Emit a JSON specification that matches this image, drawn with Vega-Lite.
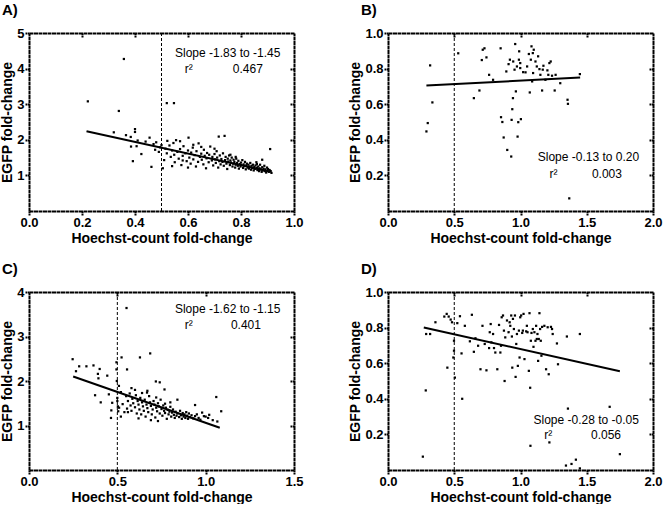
{
"$schema":"https://vega.github.io/schema/vega-lite/v6.json",
"padding":{"left":0,"top":3,"right":0,"bottom":0},
"background":"white",
"datasets":{
"pts":[
{"p":"A","x":0.222,"y":3.08},{"p":"A","x":0.358,"y":4.27},{"p":"A","x":0.339,"y":2.81},{"p":"A","x":0.52,"y":3.03},{"p":"A","x":0.547,"y":3.03},{"p":"A","x":0.32,"y":2.21},{"p":"A","x":0.366,"y":2.13},{"p":"A","x":0.384,"y":2.08},{"p":"A","x":0.4,"y":2.3},{"p":"A","x":0.4,"y":2.22},{"p":"A","x":0.385,"y":1.81},{"p":"A","x":0.406,"y":1.82},{"p":"A","x":0.392,"y":1.4},{"p":"A","x":0.424,"y":1.6},{"p":"A","x":0.41,"y":1.98},{"p":"A","x":0.44,"y":1.95},{"p":"A","x":0.455,"y":2.06},{"p":"A","x":0.462,"y":1.24},{"p":"A","x":0.47,"y":1.88},{"p":"A","x":0.476,"y":1.72},{"p":"A","x":0.48,"y":1.93},{"p":"A","x":0.49,"y":1.66},{"p":"A","x":0.495,"y":1.79},{"p":"A","x":0.5,"y":1.85},{"p":"A","x":0.505,"y":1.2},{"p":"A","x":0.51,"y":1.43},{"p":"A","x":0.515,"y":1.75},{"p":"A","x":0.52,"y":1.62},{"p":"A","x":0.522,"y":1.97},{"p":"A","x":0.53,"y":1.84},{"p":"A","x":0.535,"y":1.52},{"p":"A","x":0.54,"y":1.7},{"p":"A","x":0.545,"y":1.91},{"p":"A","x":0.548,"y":1.58},{"p":"A","x":0.55,"y":1.37},{"p":"A","x":0.555,"y":1.99},{"p":"A","x":0.56,"y":1.66},{"p":"A","x":0.565,"y":1.47},{"p":"A","x":0.57,"y":1.74},{"p":"A","x":0.575,"y":1.29},{"p":"A","x":0.58,"y":1.55},{"p":"A","x":0.583,"y":1.82},{"p":"A","x":0.59,"y":1.62},{"p":"A","x":0.595,"y":1.4},{"p":"A","x":0.6,"y":1.7},{"p":"A","x":0.602,"y":2.06},{"p":"A","x":0.605,"y":1.5},{"p":"A","x":0.61,"y":1.33},{"p":"A","x":0.612,"y":1.64},{"p":"A","x":0.618,"y":1.78},{"p":"A","x":0.62,"y":1.45},{"p":"A","x":0.625,"y":1.57},{"p":"A","x":0.63,"y":1.25},{"p":"A","x":0.632,"y":1.68},{"p":"A","x":0.638,"y":1.38},{"p":"A","x":0.64,"y":1.9},{"p":"A","x":0.645,"y":1.52},{"p":"A","x":0.65,"y":1.61},{"p":"A","x":0.652,"y":1.44},{"p":"A","x":0.658,"y":1.31},{"p":"A","x":0.66,"y":1.72},{"p":"A","x":0.663,"y":1.55},{"p":"A","x":0.668,"y":1.2},{"p":"A","x":0.67,"y":1.48},{"p":"A","x":0.672,"y":1.63},{"p":"A","x":0.678,"y":1.37},{"p":"A","x":0.68,"y":1.58},{"p":"A","x":0.684,"y":1.81},{"p":"A","x":0.69,"y":1.42},{"p":"A","x":0.692,"y":1.52},{"p":"A","x":0.695,"y":1.28},{"p":"A","x":0.7,"y":1.6},{"p":"A","x":0.702,"y":1.45},{"p":"A","x":0.705,"y":1.35},{"p":"A","x":0.708,"y":1.68},{"p":"A","x":0.71,"y":1.5},{"p":"A","x":0.714,"y":1.22},{"p":"A","x":0.716,"y":2.09},{"p":"A","x":0.718,"y":1.4},{"p":"A","x":0.72,"y":1.56},{"p":"A","x":0.723,"y":1.31},{"p":"A","x":0.726,"y":1.46},{"p":"A","x":0.73,"y":1.38},{"p":"A","x":0.732,"y":1.62},{"p":"A","x":0.735,"y":1.27},{"p":"A","x":0.738,"y":2.11},{"p":"A","x":0.74,"y":1.43},{"p":"A","x":0.742,"y":1.52},{"p":"A","x":0.745,"y":1.33},{"p":"A","x":0.748,"y":1.18},{"p":"A","x":0.75,"y":1.47},{"p":"A","x":0.752,"y":1.39},{"p":"A","x":0.755,"y":1.56},{"p":"A","x":0.758,"y":1.29},{"p":"A","x":0.76,"y":1.42},{"p":"A","x":0.762,"y":1.36},{"p":"A","x":0.765,"y":1.5},{"p":"A","x":0.768,"y":1.25},{"p":"A","x":0.77,"y":1.33},{"p":"A","x":0.772,"y":1.44},{"p":"A","x":0.775,"y":1.38},{"p":"A","x":0.778,"y":1.22},{"p":"A","x":0.78,"y":1.3},{"p":"A","x":0.782,"y":1.47},{"p":"A","x":0.785,"y":1.35},{"p":"A","x":0.788,"y":1.27},{"p":"A","x":0.79,"y":1.41},{"p":"A","x":0.792,"y":1.19},{"p":"A","x":0.795,"y":1.32},{"p":"A","x":0.798,"y":1.25},{"p":"A","x":0.8,"y":1.36},{"p":"A","x":0.802,"y":1.29},{"p":"A","x":0.805,"y":1.43},{"p":"A","x":0.808,"y":1.21},{"p":"A","x":0.81,"y":1.31},{"p":"A","x":0.812,"y":1.26},{"p":"A","x":0.815,"y":1.38},{"p":"A","x":0.818,"y":1.17},{"p":"A","x":0.82,"y":1.28},{"p":"A","x":0.822,"y":1.33},{"p":"A","x":0.825,"y":1.22},{"p":"A","x":0.828,"y":1.3},{"p":"A","x":0.83,"y":1.19},{"p":"A","x":0.832,"y":1.25},{"p":"A","x":0.835,"y":1.35},{"p":"A","x":0.838,"y":1.16},{"p":"A","x":0.84,"y":1.27},{"p":"A","x":0.842,"y":1.21},{"p":"A","x":0.845,"y":1.3},{"p":"A","x":0.848,"y":1.14},{"p":"A","x":0.85,"y":1.24},{"p":"A","x":0.852,"y":1.18},{"p":"A","x":0.855,"y":1.28},{"p":"A","x":0.858,"y":1.37},{"p":"A","x":0.86,"y":1.21},{"p":"A","x":0.862,"y":1.15},{"p":"A","x":0.865,"y":1.25},{"p":"A","x":0.868,"y":1.12},{"p":"A","x":0.87,"y":1.2},{"p":"A","x":0.872,"y":1.3},{"p":"A","x":0.875,"y":1.17},{"p":"A","x":0.878,"y":1.1},{"p":"A","x":0.88,"y":1.23},{"p":"A","x":0.882,"y":1.14},{"p":"A","x":0.885,"y":1.19},{"p":"A","x":0.888,"y":1.27},{"p":"A","x":0.89,"y":1.12},{"p":"A","x":0.892,"y":1.17},{"p":"A","x":0.895,"y":1.08},{"p":"A","x":0.898,"y":1.22},{"p":"A","x":0.9,"y":1.13},{"p":"A","x":0.902,"y":1.18},{"p":"A","x":0.905,"y":1.1},{"p":"A","x":0.908,"y":1.15},{"p":"A","x":0.91,"y":1.74},{"p":"A","x":0.912,"y":1.12},{"p":"A","x":0.915,"y":1.07},{"p":"A","x":0.88,"y":1.44},{"p":"A","x":0.86,"y":1.32},{"p":"A","x":0.78,"y":1.52},{"p":"A","x":0.76,"y":1.58},{"p":"A","x":0.7,"y":1.75},{"p":"A","x":0.65,"y":1.8},{"p":"A","x":0.62,"y":1.86},{"p":"A","x":0.58,"y":1.42},{"p":"A","x":0.57,"y":1.96},{"p":"A","x":0.6,"y":1.22},{"p":"A","x":0.54,"y":1.26},
{"p":"B","x":0.29,"y":0.447},{"p":"B","x":0.3,"y":0.494},{"p":"B","x":0.318,"y":0.818},{"p":"B","x":0.335,"y":0.61},{"p":"B","x":0.53,"y":0.886},{"p":"B","x":0.648,"y":0.634},{"p":"B","x":0.69,"y":0.677},{"p":"B","x":0.708,"y":0.848},{"p":"B","x":0.715,"y":0.906},{"p":"B","x":0.728,"y":0.914},{"p":"B","x":0.743,"y":0.863},{"p":"B","x":0.763,"y":0.765},{"p":"B","x":0.793,"y":0.737},{"p":"B","x":0.85,"y":0.914},{"p":"B","x":0.853,"y":0.527},{"p":"B","x":0.863,"y":0.5},{"p":"B","x":0.873,"y":0.413},{"p":"B","x":0.893,"y":0.784},{"p":"B","x":0.9,"y":0.343},{"p":"B","x":0.91,"y":0.825},{"p":"B","x":0.92,"y":0.85},{"p":"B","x":0.93,"y":0.306},{"p":"B","x":0.933,"y":0.512},{"p":"B","x":0.938,"y":0.572},{"p":"B","x":0.943,"y":0.634},{"p":"B","x":0.945,"y":0.84},{"p":"B","x":0.955,"y":0.794},{"p":"B","x":0.96,"y":0.938},{"p":"B","x":0.965,"y":0.672},{"p":"B","x":0.973,"y":0.812},{"p":"B","x":0.978,"y":0.418},{"p":"B","x":0.983,"y":0.499},{"p":"B","x":0.988,"y":0.85},{"p":"B","x":0.99,"y":0.897},{"p":"B","x":0.998,"y":0.831},{"p":"B","x":1.003,"y":0.516},{"p":"B","x":0.998,"y":0.803},{"p":"B","x":1.038,"y":0.779},{"p":"B","x":1.05,"y":0.812},{"p":"B","x":1.063,"y":0.882},{"p":"B","x":1.07,"y":0.666},{"p":"B","x":1.078,"y":0.85},{"p":"B","x":1.083,"y":0.925},{"p":"B","x":1.088,"y":0.728},{"p":"B","x":1.093,"y":0.887},{"p":"B","x":1.1,"y":0.906},{"p":"B","x":1.113,"y":0.84},{"p":"B","x":1.123,"y":0.812},{"p":"B","x":1.133,"y":0.869},{"p":"B","x":1.143,"y":0.797},{"p":"B","x":1.15,"y":0.765},{"p":"B","x":1.163,"y":0.677},{"p":"B","x":1.168,"y":0.794},{"p":"B","x":1.173,"y":0.816},{"p":"B","x":1.188,"y":0.737},{"p":"B","x":1.203,"y":0.79},{"p":"B","x":1.21,"y":0.765},{"p":"B","x":1.218,"y":0.831},{"p":"B","x":1.228,"y":0.84},{"p":"B","x":1.238,"y":0.76},{"p":"B","x":1.258,"y":0.677},{"p":"B","x":1.265,"y":0.765},{"p":"B","x":1.3,"y":0.718},{"p":"B","x":1.355,"y":0.625},{"p":"B","x":1.358,"y":0.602},{"p":"B","x":1.368,"y":0.071},{"p":"B","x":1.448,"y":0.769},{"p":"B","x":1.02,"y":0.78},{"p":"B","x":1.095,"y":0.775},
{"p":"C","x":0.247,"y":2.49},{"p":"C","x":0.266,"y":2.22},{"p":"C","x":0.284,"y":2.33},{"p":"C","x":0.325,"y":2.33},{"p":"C","x":0.365,"y":2.35},{"p":"C","x":0.39,"y":2.16},{"p":"C","x":0.4,"y":2.27},{"p":"C","x":0.393,"y":2.06},{"p":"C","x":0.374,"y":1.68},{"p":"C","x":0.406,"y":1.52},{"p":"C","x":0.443,"y":2.12},{"p":"C","x":0.452,"y":1.7},{"p":"C","x":0.466,"y":1.34},{"p":"C","x":0.464,"y":1.17},{"p":"C","x":0.471,"y":1.51},{"p":"C","x":0.495,"y":2.42},{"p":"C","x":0.495,"y":2.26},{"p":"C","x":0.497,"y":2.0},{"p":"C","x":0.5,"y":1.55},{"p":"C","x":0.503,"y":1.43},{"p":"C","x":0.505,"y":1.32},{"p":"C","x":0.509,"y":1.89},{"p":"C","x":0.524,"y":2.53},{"p":"C","x":0.552,"y":3.64},{"p":"C","x":0.555,"y":2.26},{"p":"C","x":0.628,"y":2.53},{"p":"C","x":0.686,"y":2.62},{"p":"C","x":0.718,"y":1.99},{"p":"C","x":0.668,"y":1.74},{"p":"C","x":0.767,"y":1.81},{"p":"C","x":0.84,"y":1.58},{"p":"C","x":1.06,"y":1.64},{"p":"C","x":1.088,"y":1.32},{"p":"C","x":1.066,"y":1.09},{"p":"C","x":0.99,"y":1.21},{"p":"C","x":1.014,"y":1.17},{"p":"C","x":0.94,"y":1.46},
{"p":"C","x":0.5,"y":1.62},{"p":"C","x":0.51,"y":1.4},{"p":"C","x":0.52,"y":1.75},{"p":"C","x":0.53,"y":1.48},{"p":"C","x":0.54,"y":1.3},{"p":"C","x":0.55,"y":1.66},{"p":"C","x":0.555,"y":1.38},{"p":"C","x":0.56,"y":1.55},{"p":"C","x":0.57,"y":1.72},{"p":"C","x":0.575,"y":1.45},{"p":"C","x":0.58,"y":1.33},{"p":"C","x":0.585,"y":1.6},{"p":"C","x":0.59,"y":1.5},{"p":"C","x":0.6,"y":1.41},{"p":"C","x":0.605,"y":1.68},{"p":"C","x":0.61,"y":1.27},{"p":"C","x":0.615,"y":1.55},{"p":"C","x":0.62,"y":1.47},{"p":"C","x":0.625,"y":1.36},{"p":"C","x":0.63,"y":1.62},{"p":"C","x":0.635,"y":1.25},{"p":"C","x":0.64,"y":1.52},{"p":"C","x":0.645,"y":1.43},{"p":"C","x":0.65,"y":1.33},{"p":"C","x":0.655,"y":1.58},{"p":"C","x":0.66,"y":1.2},{"p":"C","x":0.665,"y":1.47},{"p":"C","x":0.67,"y":1.39},{"p":"C","x":0.675,"y":1.3},{"p":"C","x":0.68,"y":1.66},{"p":"C","x":0.685,"y":1.52},{"p":"C","x":0.69,"y":1.44},{"p":"C","x":0.695,"y":1.25},{"p":"C","x":0.7,"y":1.36},{"p":"C","x":0.705,"y":1.55},{"p":"C","x":0.71,"y":1.47},{"p":"C","x":0.715,"y":1.18},{"p":"C","x":0.72,"y":1.4},{"p":"C","x":0.725,"y":1.32},{"p":"C","x":0.73,"y":1.5},{"p":"C","x":0.735,"y":1.43},{"p":"C","x":0.74,"y":1.27},{"p":"C","x":0.745,"y":1.58},{"p":"C","x":0.75,"y":1.37},{"p":"C","x":0.755,"y":1.22},{"p":"C","x":0.76,"y":1.45},{"p":"C","x":0.765,"y":1.33},{"p":"C","x":0.77,"y":1.28},{"p":"C","x":0.775,"y":1.4},{"p":"C","x":0.78,"y":1.15},{"p":"C","x":0.785,"y":1.35},{"p":"C","x":0.79,"y":1.25},{"p":"C","x":0.795,"y":1.31},{"p":"C","x":0.8,"y":1.42},{"p":"C","x":0.805,"y":1.2},{"p":"C","x":0.81,"y":1.29},{"p":"C","x":0.815,"y":1.36},{"p":"C","x":0.82,"y":1.24},{"p":"C","x":0.825,"y":1.17},{"p":"C","x":0.83,"y":1.31},{"p":"C","x":0.835,"y":1.22},{"p":"C","x":0.84,"y":1.27},{"p":"C","x":0.85,"y":1.19},{"p":"C","x":0.855,"y":1.33},{"p":"C","x":0.86,"y":1.23},{"p":"C","x":0.865,"y":1.15},{"p":"C","x":0.87,"y":1.28},{"p":"C","x":0.875,"y":1.2},{"p":"C","x":0.88,"y":1.25},{"p":"C","x":0.885,"y":1.17},{"p":"C","x":0.89,"y":1.3},{"p":"C","x":0.895,"y":1.22},{"p":"C","x":0.9,"y":1.15},{"p":"C","x":0.905,"y":1.27},{"p":"C","x":0.91,"y":1.19},{"p":"C","x":0.92,"y":1.23},{"p":"C","x":0.93,"y":1.16},{"p":"C","x":0.94,"y":1.21},{"p":"C","x":0.95,"y":1.25},{"p":"C","x":0.96,"y":1.17},{"p":"C","x":0.97,"y":1.13},{"p":"C","x":0.98,"y":1.29},{"p":"C","x":1.0,"y":1.2},{"p":"C","x":1.02,"y":1.24},{"p":"C","x":1.04,"y":1.12},{"p":"C","x":0.52,"y":1.2},{"p":"C","x":0.56,"y":1.3},{"p":"C","x":0.6,"y":1.8},{"p":"C","x":0.64,"y":1.73},{"p":"C","x":0.67,"y":1.78},{"p":"C","x":0.72,"y":1.63},{"p":"C","x":0.74,"y":1.97},{"p":"C","x":0.8,"y":1.52},{"p":"C","x":0.58,"y":1.84},{"p":"C","x":0.62,"y":1.16},{"p":"C","x":0.69,"y":1.12},{"p":"C","x":0.73,"y":1.1},{"p":"C","x":0.77,"y":1.49},
{"p":"D","x":0.263,"y":0.075},{"p":"D","x":0.285,"y":0.447},{"p":"D","x":0.288,"y":0.764},{"p":"D","x":0.318,"y":0.764},{"p":"D","x":0.358,"y":0.83},{"p":"D","x":0.425,"y":0.862},{"p":"D","x":0.443,"y":0.877},{"p":"D","x":0.458,"y":0.862},{"p":"D","x":0.448,"y":0.575},{"p":"D","x":0.473,"y":0.845},{"p":"D","x":0.483,"y":0.83},{"p":"D","x":0.493,"y":0.632},{"p":"D","x":0.498,"y":0.67},{"p":"D","x":0.505,"y":0.519},{"p":"D","x":0.498,"y":0.726},{"p":"D","x":0.523,"y":0.825},{"p":"D","x":0.543,"y":0.864},{"p":"D","x":0.555,"y":0.655},{"p":"D","x":0.56,"y":0.4},{"p":"D","x":0.58,"y":0.81},{"p":"D","x":0.618,"y":0.723},{"p":"D","x":0.633,"y":0.872},{"p":"D","x":0.648,"y":0.664},{"p":"D","x":0.66,"y":0.74},{"p":"D","x":0.68,"y":0.698},{"p":"D","x":0.698,"y":0.566},{"p":"D","x":0.713,"y":0.81},{"p":"D","x":0.73,"y":0.708},{"p":"D","x":0.743,"y":0.56},{"p":"D","x":0.763,"y":0.685},{"p":"D","x":0.768,"y":0.774},{"p":"D","x":0.775,"y":0.82},{"p":"D","x":0.78,"y":0.717},{"p":"D","x":0.793,"y":0.764},{"p":"D","x":0.8,"y":0.685},{"p":"D","x":0.81,"y":0.66},{"p":"D","x":0.825,"y":0.566},{"p":"D","x":0.838,"y":0.815},{"p":"D","x":0.848,"y":0.66},{"p":"D","x":0.853,"y":0.698},{"p":"D","x":0.858,"y":0.858},{"p":"D","x":0.868,"y":0.868},{"p":"D","x":0.875,"y":0.783},{"p":"D","x":0.88,"y":0.5},{"p":"D","x":0.885,"y":0.745},{"p":"D","x":0.898,"y":0.84},{"p":"D","x":0.91,"y":0.774},{"p":"D","x":0.918,"y":0.83},{"p":"D","x":0.923,"y":0.81},{"p":"D","x":0.93,"y":0.868},{"p":"D","x":0.935,"y":0.75},{"p":"D","x":0.938,"y":0.575},{"p":"D","x":0.943,"y":0.849},{"p":"D","x":0.95,"y":0.792},{"p":"D","x":0.958,"y":0.868},{"p":"D","x":0.963,"y":0.523},{"p":"D","x":0.968,"y":0.708},{"p":"D","x":0.973,"y":0.764},{"p":"D","x":0.98,"y":0.585},{"p":"D","x":0.988,"y":0.783},{"p":"D","x":0.993,"y":0.632},{"p":"D","x":0.998,"y":0.858},{"p":"D","x":1.005,"y":0.868},{"p":"D","x":1.013,"y":0.77},{"p":"D","x":1.018,"y":0.783},{"p":"D","x":1.023,"y":0.877},{"p":"D","x":1.03,"y":0.623},{"p":"D","x":1.043,"y":0.779},{"p":"D","x":1.048,"y":0.81},{"p":"D","x":1.053,"y":0.774},{"p":"D","x":1.063,"y":0.557},{"p":"D","x":1.068,"y":0.881},{"p":"D","x":1.073,"y":0.462},{"p":"D","x":1.078,"y":0.726},{"p":"D","x":1.083,"y":0.77},{"p":"D","x":1.075,"y":0.136},{"p":"D","x":1.093,"y":0.792},{"p":"D","x":1.098,"y":0.692},{"p":"D","x":1.105,"y":0.774},{"p":"D","x":1.113,"y":0.726},{"p":"D","x":1.118,"y":0.81},{"p":"D","x":1.123,"y":0.736},{"p":"D","x":1.128,"y":0.764},{"p":"D","x":1.133,"y":0.613},{"p":"D","x":1.138,"y":0.736},{"p":"D","x":1.143,"y":0.881},{"p":"D","x":1.148,"y":0.792},{"p":"D","x":1.153,"y":0.726},{"p":"D","x":1.158,"y":0.642},{"p":"D","x":1.163,"y":0.804},{"p":"D","x":1.18,"y":0.81},{"p":"D","x":1.193,"y":0.566},{"p":"D","x":1.205,"y":0.802},{"p":"D","x":1.213,"y":0.538},{"p":"D","x":1.218,"y":0.155},{"p":"D","x":1.23,"y":0.804},{"p":"D","x":1.238,"y":0.792},{"p":"D","x":1.243,"y":0.764},{"p":"D","x":1.275,"y":0.711},{"p":"D","x":1.283,"y":0.594},{"p":"D","x":1.35,"y":0.75},{"p":"D","x":1.358,"y":0.345},{"p":"D","x":1.343,"y":0.025},{"p":"D","x":1.385,"y":0.034},{"p":"D","x":1.418,"y":0.058},{"p":"D","x":1.448,"y":0.009},{"p":"D","x":1.448,"y":0.764},{"p":"D","x":1.673,"y":0.355},{"p":"D","x":1.75,"y":0.089}
],
"fit":[
{"p":"A","x":0.217,"y":2.24},{"p":"A","x":0.913,"y":1.1},
{"p":"B","x":0.29,"y":0.705},{"p":"B","x":1.45,"y":0.75},
{"p":"C","x":0.25,"y":2.1},{"p":"C","x":1.08,"y":0.95},
{"p":"D","x":0.27,"y":0.8},{"p":"D","x":1.75,"y":0.555}
]
},
"concat":[
{"title":{"text":"A)"},"width":265,"height":178,
"layer":[
{"data":{"name":"pts"},"transform":[{"filter":"datum.p==='A'"}],"mark":{"type":"square","size":5,"color":"black","opacity":1},
"encoding":{"x":{"field":"x","type":"quantitative","scale":{"domain":[0,1],"nice":false,"zero":false},"axis":{"orient":"bottom","values":[0,0.2,0.4,0.6,0.8,1.0],"format":".1f","title":"Hoechst-count fold-change"}},
"y":{"field":"y","type":"quantitative","scale":{"domain":[0,5],"nice":false,"zero":false},"axis":{"orient":"left","values":[1,2,3,4,5],"format":"d","title":"EGFP fold-change"}}}},
{"data":{"name":"fit"},"transform":[{"filter":"datum.p==='A'"}],"mark":{"type":"line","color":"black","strokeWidth":2},
"encoding":{"x":{"field":"x","type":"quantitative","axis":{"orient":"top","values":[0.2,0.4,0.6,0.8],"labels":false,"title":null,"tickSize":-4}},
"y":{"field":"y","type":"quantitative","axis":{"orient":"right","values":[1,2,3,4],"labels":false,"title":null,"tickSize":-4}}}},
{"data":{"values":[{}]},"mark":{"type":"rule","color":"black","strokeWidth":1,"strokeDash":[3,2]},"encoding":{"x":{"datum":0.5,"axis":null}}},
{"data":{"values":[{}]},"mark":{"type":"text","align":"left","baseline":"middle","fontSize":12,"font":"Liberation Sans"},"encoding":{"x":{"datum":0.551,"axis":null},"y":{"datum":4.45,"axis":null},"text":{"value":"Slope -1.83 to -1.45"}}},
{"data":{"values":[{}]},"mark":{"type":"text","align":"left","baseline":"middle","fontSize":12,"font":"Liberation Sans"},"encoding":{"x":{"datum":0.588,"axis":null},"y":{"datum":3.99,"axis":null},"text":{"value":"r²"}}},
{"data":{"values":[{}]},"mark":{"type":"text","align":"left","baseline":"middle","fontSize":12,"font":"Liberation Sans"},"encoding":{"x":{"datum":0.769,"axis":null},"y":{"datum":3.99,"axis":null},"text":{"value":"0.467"}}}
],
"resolve":{"axis":{"x":"independent","y":"independent"}}},
{"title":{"text":"B)"},"width":265,"height":178,
"layer":[
{"data":{"name":"pts"},"transform":[{"filter":"datum.p==='B'"}],"mark":{"type":"square","size":5,"color":"black","opacity":1},
"encoding":{"x":{"field":"x","type":"quantitative","scale":{"domain":[0,2],"nice":false,"zero":false},"axis":{"orient":"bottom","values":[0,0.5,1,1.5,2],"format":".1f","title":"Hoechst-count fold-change"}},
"y":{"field":"y","type":"quantitative","scale":{"domain":[0,1],"nice":false,"zero":false},"axis":{"orient":"left","values":[0.2,0.4,0.6,0.8,1.0],"format":".1f","title":"EGFP fold-change"}}}},
{"data":{"name":"fit"},"transform":[{"filter":"datum.p==='B'"}],"mark":{"type":"line","color":"black","strokeWidth":2},
"encoding":{"x":{"field":"x","type":"quantitative","axis":{"orient":"top","values":[0.5,1,1.5],"labels":false,"title":null,"tickSize":-4}},
"y":{"field":"y","type":"quantitative","axis":{"orient":"right","values":[0.2,0.4,0.6,0.8],"labels":false,"title":null,"tickSize":-4}}}},
{"data":{"values":[{}]},"mark":{"type":"rule","color":"black","strokeWidth":1,"strokeDash":[3,2]},"encoding":{"x":{"datum":0.5,"axis":null}}},
{"data":{"values":[{}]},"mark":{"type":"text","align":"left","baseline":"middle","fontSize":12,"font":"Liberation Sans"},"encoding":{"x":{"datum":1.13,"axis":null},"y":{"datum":0.302,"axis":null},"text":{"value":"Slope -0.13 to 0.20"}}},
{"data":{"values":[{}]},"mark":{"type":"text","align":"left","baseline":"middle","fontSize":12,"font":"Liberation Sans"},"encoding":{"x":{"datum":1.218,"axis":null},"y":{"datum":0.208,"axis":null},"text":{"value":"r²"}}},
{"data":{"values":[{}]},"mark":{"type":"text","align":"left","baseline":"middle","fontSize":12,"font":"Liberation Sans"},"encoding":{"x":{"datum":1.539,"axis":null},"y":{"datum":0.208,"axis":null},"text":{"value":"0.003"}}}
],
"resolve":{"axis":{"x":"independent","y":"independent"}}},
{"title":{"text":"C)"},"width":265,"height":178,
"layer":[
{"data":{"name":"pts"},"transform":[{"filter":"datum.p==='C'"}],"mark":{"type":"square","size":5,"color":"black","opacity":1},
"encoding":{"x":{"field":"x","type":"quantitative","scale":{"domain":[0,1.5],"nice":false,"zero":false},"axis":{"orient":"bottom","values":[0,0.5,1,1.5],"format":".1f","title":"Hoechst-count fold-change"}},
"y":{"field":"y","type":"quantitative","scale":{"domain":[0,4],"nice":false,"zero":false},"axis":{"orient":"left","values":[1,2,3,4],"format":"d","title":"EGFP fold-change"}}}},
{"data":{"name":"fit"},"transform":[{"filter":"datum.p==='C'"}],"mark":{"type":"line","color":"black","strokeWidth":2},
"encoding":{"x":{"field":"x","type":"quantitative","axis":{"orient":"top","values":[0.5,1],"labels":false,"title":null,"tickSize":-4}},
"y":{"field":"y","type":"quantitative","axis":{"orient":"right","values":[1,2,3],"labels":false,"title":null,"tickSize":-4}}}},
{"data":{"values":[{}]},"mark":{"type":"rule","color":"black","strokeWidth":1,"strokeDash":[3,2]},"encoding":{"x":{"datum":0.5,"axis":null}}},
{"data":{"values":[{}]},"mark":{"type":"text","align":"left","baseline":"middle","fontSize":12,"font":"Liberation Sans"},"encoding":{"x":{"datum":0.826,"axis":null},"y":{"datum":3.62,"axis":null},"text":{"value":"Slope -1.62 to -1.15"}}},
{"data":{"values":[{}]},"mark":{"type":"text","align":"left","baseline":"middle","fontSize":12,"font":"Liberation Sans"},"encoding":{"x":{"datum":0.882,"axis":null},"y":{"datum":3.25,"axis":null},"text":{"value":"r²"}}},
{"data":{"values":[{}]},"mark":{"type":"text","align":"left","baseline":"middle","fontSize":12,"font":"Liberation Sans"},"encoding":{"x":{"datum":1.143,"axis":null},"y":{"datum":3.25,"axis":null},"text":{"value":"0.401"}}}
],
"resolve":{"axis":{"x":"independent","y":"independent"}}},
{"title":{"text":"D)"},"width":265,"height":178,
"layer":[
{"data":{"name":"pts"},"transform":[{"filter":"datum.p==='D'"}],"mark":{"type":"square","size":5,"color":"black","opacity":1},
"encoding":{"x":{"field":"x","type":"quantitative","scale":{"domain":[0,2],"nice":false,"zero":false},"axis":{"orient":"bottom","values":[0,0.5,1,1.5,2],"format":".1f","title":"Hoechst-count fold-change"}},
"y":{"field":"y","type":"quantitative","scale":{"domain":[0,1],"nice":false,"zero":false},"axis":{"orient":"left","values":[0.2,0.4,0.6,0.8,1.0],"format":".1f","title":"EGFP fold-change"}}}},
{"data":{"name":"fit"},"transform":[{"filter":"datum.p==='D'"}],"mark":{"type":"line","color":"black","strokeWidth":2},
"encoding":{"x":{"field":"x","type":"quantitative","axis":{"orient":"top","values":[0.5,1,1.5],"labels":false,"title":null,"tickSize":-4}},
"y":{"field":"y","type":"quantitative","axis":{"orient":"right","values":[0.2,0.4,0.6,0.8],"labels":false,"title":null,"tickSize":-4}}}},
{"data":{"values":[{}]},"mark":{"type":"rule","color":"black","strokeWidth":1,"strokeDash":[3,2]},"encoding":{"x":{"datum":0.5,"axis":null}}},
{"data":{"values":[{}]},"mark":{"type":"text","align":"left","baseline":"middle","fontSize":12,"font":"Liberation Sans"},"encoding":{"x":{"datum":1.098,"axis":null},"y":{"datum":0.279,"axis":null},"text":{"value":"Slope -0.28 to -0.05"}}},
{"data":{"values":[{}]},"mark":{"type":"text","align":"left","baseline":"middle","fontSize":12,"font":"Liberation Sans"},"encoding":{"x":{"datum":1.18,"axis":null},"y":{"datum":0.196,"axis":null},"text":{"value":"r²"}}},
{"data":{"values":[{}]},"mark":{"type":"text","align":"left","baseline":"middle","fontSize":12,"font":"Liberation Sans"},"encoding":{"x":{"datum":1.532,"axis":null},"y":{"datum":0.196,"axis":null},"text":{"value":"0.056"}}}
],
"resolve":{"axis":{"x":"independent","y":"independent"}}}
],
"columns":2,
"spacing":{"row":81,"column":94},
"bounds":"flush",
"config":{
"view":{"stroke":null},
"font":"Liberation Sans",
"title":{"anchor":"start","frame":"group","dx":-27,"offset":9,"fontSize":15,"fontWeight":"bold","font":"Liberation Sans","color":"black"},
"axis":{"grid":false,"domain":true,"ticks":true,"domainColor":"black","domainWidth":2,"domainDash":[4,0.5],"tickColor":"black","tickWidth":2,"tickSize":4,"tickDash":[2,0.5],"labelFont":"Liberation Sans","labelFontSize":13,"labelFontWeight":"bold","labelColor":"black","labelPadding":1,"labelFlush":false,"labelOverlap":false,"titleFont":"Liberation Sans","titleFontSize":14,"titleFontWeight":"bold","titleColor":"black","titlePadding":2}
}
}
